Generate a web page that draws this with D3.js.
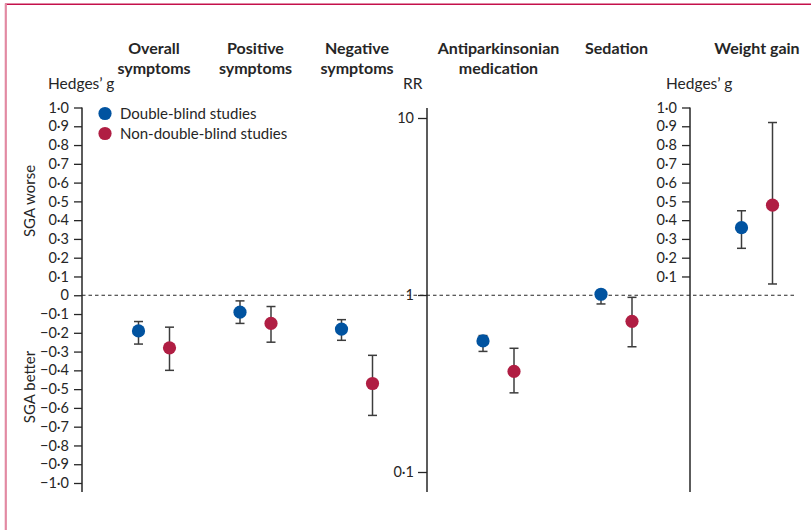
<!DOCTYPE html>
<html>
<head>
<meta charset="utf-8">
<script src="https://cdn.jsdelivr.net/npm/d3@7"></script>
<style>
  html, body { margin: 0; padding: 0; background: #fff; }
  svg { display: block; font-family: Lato, "Open Sans", sans-serif; }
</style>
</head>
<body>
<svg id="chart" width="811" height="530"></svg>
<script>
// Outcomes, grouped by the scale they are measured on
const categories = ["Overall symptoms", "Positive symptoms", "Negative symptoms",
                    "Antiparkinsonian medication", "Sedation", "Weight gain"];
const headerLines = [["Overall", "symptoms"], ["Positive", "symptoms"], ["Negative", "symptoms"],
                     ["Antiparkinsonian", "medication"], ["Sedation"], ["Weight gain"]];
const efficacyCats = ["Overall symptoms", "Positive symptoms", "Negative symptoms"];
const rrCats = ["Antiparkinsonian medication", "Sedation"];
const weightCats = ["Weight gain"];

const series = ["Double-blind studies", "Non-double-blind studies"];
const seriesColors = ["#0153a0", "#b01e43"];

// Point estimates and 95% CI (Hedges' g for symptoms and weight gain, RR otherwise)
const doubleBlindEst  = [-0.19, -0.09, -0.18, 0.55, 1.01, 0.36];
const doubleBlindLow  = [-0.26, -0.15, -0.24, 0.48, 0.89, 0.25];
const doubleBlindHigh = [-0.14, -0.03, -0.13, 0.59, 1.04, 0.45];
const openEst  = [-0.28, -0.15, -0.47, 0.37, 0.71, 0.48];
const openLow  = [-0.40, -0.25, -0.64, 0.28, 0.51, 0.06];
const openHigh = [-0.17, -0.06, -0.32, 0.50, 0.97, 0.92];

const gTicksLeft = d3.range(-10, 11).map(d => d / 10);
const gTicksRight = d3.range(1, 11).map(d => d / 10);
const rrTicks = [0.1, 1, 10];

const svg = d3.select("#chart");
const ink = "#262626";

// Page frame
svg.append("line").attr("x1", 5).attr("x2", 811).attr("y1", 4.3).attr("y2", 4.3)
  .attr("stroke", "#c4104b").attr("stroke-width", 1.6);
svg.append("line").attr("x1", 5.8).attr("x2", 5.8).attr("y1", 3.5).attr("y2", 530)
  .attr("stroke", "#e28aa3").attr("stroke-width", 2.2);

// Scales
const g = d3.scaleLinear().domain([-1, 1]).range([483, 107.5]);
const rr = d3.scaleLog().domain([0.1, 10]).range([472, 118]);
const axisBottom = 492;

const xEff = d3.scalePoint().domain(efficacyCats).range([154, 357]);
const xRR = d3.scalePoint().domain(rrCats).range([498.5, 616.5]);
const xWt = d3.scalePoint().domain(weightCats).range([757, 757]).padding(0.5);
const offset = d3.scalePoint().domain(series).range([-15.5, 15.5]);

function xOf(cat) {
  if (efficacyCats.includes(cat)) return xEff(cat);
  if (rrCats.includes(cat)) return xRR(cat);
  return xWt(cat);
}
function yOf(cat) { return rrCats.includes(cat) ? rr : g; }

const fmt = v => v === 0 ? "0" : d3.format(".1f")(v).replace(".", "\u00b7").replace("-", "\u2013");

function styleAxis(sel) {
  sel.select(".domain").remove();
  sel.selectAll(".tick line").attr("stroke", ink).attr("stroke-width", 1.3);
  sel.selectAll(".tick text").attr("fill", ink).style("font-size", "14.5px")
    .style("font-family", "Lato, sans-serif");
}

// Left Hedges' g axis
const leftX = 82;
const leftAxis = svg.append("g").attr("transform", `translate(${leftX},0)`)
  .call(d3.axisLeft(g).tickValues(gTicksLeft).tickFormat(fmt).tickSize(8).tickPadding(5))
  .call(styleAxis);
leftAxis.append("line").attr("x1", 0).attr("x2", 0).attr("y1", g(1)).attr("y2", axisBottom)
  .attr("stroke", ink).attr("stroke-width", 1.5);

// RR axis (log)
const midX = 427;
const midAxis = svg.append("g").attr("transform", `translate(${midX},0)`)
  .call(d3.axisLeft(rr).tickValues(rrTicks).tickFormat(v => String(v).replace(".", "\u00b7")).tickSize(9).tickPadding(4))
  .call(styleAxis);
midAxis.append("line").attr("x1", 0).attr("x2", 0).attr("y1", rr(10) - 10).attr("y2", axisBottom)
  .attr("stroke", ink).attr("stroke-width", 1.5);

// Right Hedges' g axis
const rightX = 690;
const rightAxis = svg.append("g").attr("transform", `translate(${rightX},0)`)
  .call(d3.axisLeft(g).tickValues(gTicksRight).tickFormat(fmt).tickSize(8).tickPadding(5))
  .call(styleAxis);
rightAxis.append("line").attr("x1", 0).attr("x2", 0).attr("y1", g(1)).attr("y2", axisBottom)
  .attr("stroke", ink).attr("stroke-width", 1.5);

// No-difference reference line
svg.append("line").attr("x1", leftX).attr("x2", 797).attr("y1", g(0)).attr("y2", g(0))
  .attr("stroke", ink).attr("stroke-width", 1).attr("stroke-dasharray", "3.5,3");

// Axis titles
const label = (x, y, t, anchor) => svg.append("text").attr("x", x).attr("y", y)
  .attr("text-anchor", anchor || "start").attr("fill", ink).style("font-size", "15.5px").text(t);
label(48, 89, "Hedges\u2019 g");
label(403, 89, "RR");
label(666, 89, "Hedges\u2019 g");

svg.append("text").attr("transform", "translate(35,201) rotate(-90)").attr("text-anchor", "middle")
  .attr("fill", ink).style("font-size", "15px").text("SGA worse");
svg.append("text").attr("transform", "translate(35,387) rotate(-90)").attr("text-anchor", "middle")
  .attr("fill", ink).style("font-size", "15px").text("SGA better");

// Outcome headers
categories.forEach((c, i) => {
  const t = svg.append("text").attr("x", xOf(c)).attr("y", 54).attr("text-anchor", "middle")
    .attr("fill", ink).style("font-size", "16px").style("font-weight", "bold");
  headerLines[i].forEach((line, j) => {
    t.append("tspan").attr("x", xOf(c)).attr("dy", j === 0 ? 0 : 20).text(line);
  });
});

// Estimates with confidence intervals
const rows = [];
categories.forEach((c, i) => {
  rows.push({ cat: c, s: series[0], est: doubleBlindEst[i], lo: doubleBlindLow[i], hi: doubleBlindHigh[i] });
  rows.push({ cat: c, s: series[1], est: openEst[i], lo: openLow[i], hi: openHigh[i] });
});

const marks = svg.append("g").selectAll("g").data(rows).join("g")
  .attr("transform", d => `translate(${xOf(d.cat) + offset(d.s)},0)`);
const capW = 4.5;
marks.append("line").attr("y1", d => yOf(d.cat)(d.lo)).attr("y2", d => yOf(d.cat)(d.hi))
  .attr("stroke", "#3c3c3c").attr("stroke-width", 1.5);
marks.append("line").attr("x1", -capW).attr("x2", capW)
  .attr("y1", d => yOf(d.cat)(d.lo)).attr("y2", d => yOf(d.cat)(d.lo))
  .attr("stroke", "#3c3c3c").attr("stroke-width", 1.5);
marks.append("line").attr("x1", -capW).attr("x2", capW)
  .attr("y1", d => yOf(d.cat)(d.hi)).attr("y2", d => yOf(d.cat)(d.hi))
  .attr("stroke", "#3c3c3c").attr("stroke-width", 1.5);
marks.append("circle").attr("cy", d => yOf(d.cat)(d.est)).attr("r", 6.6)
  .attr("fill", d => seriesColors[series.indexOf(d.s)]);

// Legend
const legend = svg.append("g").selectAll("g").data(series).join("g")
  .attr("transform", (d, i) => `translate(105,${113.5 + i * 20})`);
legend.append("circle").attr("r", 6.6).attr("fill", (d, i) => seriesColors[i]);
legend.append("text").attr("x", 15).attr("dy", "0.35em").attr("fill", ink)
  .style("font-size", "15px").text(d => d);
</script>
</body>
</html>
